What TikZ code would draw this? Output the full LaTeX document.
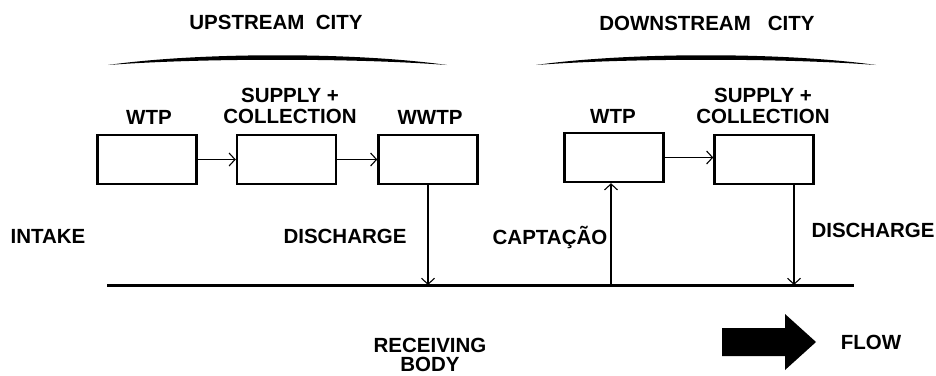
\documentclass[tikz,border=0pt]{standalone}
\usepackage{fontspec}
\setmainfont{Liberation Sans}
\usetikzlibrary{arrows.meta}
\begin{document}
\begin{tikzpicture}[x=1pt,y=-1pt,
  lbl/.style={font=\fontsize{20.5}{22}\selectfont\bfseries, inner sep=0pt, align=center},
  unit/.style={draw, line width=2.4pt, minimum width=99pt, minimum height=49pt, inner sep=0pt},
  conn/.style={line width=1.1pt, -{Straight Barb[length=6pt,width=13pt,line width=1.1pt]}},
  riverline/.style={line width=3pt}]
\useasboundingbox (0,0) rectangle (936,375);
% titles
\node[lbl] (up) at (276,22) {UPSTREAM\ \ CITY};
\node[lbl] (down) at (707,23) {DOWNSTREAM\ \ \ CITY};
% braces
\fill (108,65) .. controls (200,52) and (355,52) .. (447,65) .. controls (355,58) and (200,58) .. (108,65) -- cycle;
\fill (536,65) .. controls (628,52) and (784,52) .. (876,65) .. controls (784,58) and (628,58) .. (536,65) -- cycle;
% boxes
\node[unit] (wtp1) at (147,159.5) {};
\node[unit] (sup1) at (286.5,159.5) {};
\node[unit] (wwtp) at (428,159.5) {};
\node[unit] (wtp2) at (614,157.5) {};
\node[unit] (sup2) at (764,159.5) {};
% box labels
\node[lbl] (lwtp1) at (149,117) {WTP};
\node[lbl] (lsup1) at (290,106) {SUPPLY +\\[-1pt]COLLECTION};
\node[lbl] (lwwtp) at (430,117) {WWTP};
\node[lbl] (lwtp2) at (613,116) {WTP};
\node[lbl] (lsup2) at (763,106) {SUPPLY +\\[-1pt]COLLECTION};
% river
\coordinate (rl) at (107,285);
\coordinate (rr) at (854,285);
\draw[riverline] (rl) -- (rr);
\coordinate (d1) at (428,285);
\coordinate (c2) at (611,285);
\coordinate (d2) at (794,285);
\coordinate (s2b) at (794,185);
% connectors
\draw[conn] (wtp1.east) -- (sup1.west);
\draw[conn] (sup1.east) -- (wwtp.west);
\draw[conn] (wtp2.east) -- (wtp2.east -| sup2.west);
\draw[conn] (wwtp.south) -- (d1);
\draw[conn] (c2) -- (c2 |- wtp2.south);
\draw[conn] (s2b) -- (d2);
% side labels
\node[lbl] (intake) at (48,236) {INTAKE};
\node[lbl] (dis1) at (345,236) {DISCHARGE};
\node[lbl] (capt) at (550,237) {CAPTAÇÃO};
\node[lbl] (dis2) at (873,230) {DISCHARGE};
\node[lbl] (recv) at (430,354.5) {RECEIVING\\[-3pt]BODY};
\node[lbl] (flow) at (871,342) {FLOW};
% flow arrow
\fill (722,328) -- (785,328) -- (785,314) -- (816,342) -- (785,370) -- (785,356) -- (722,356) -- cycle;
\end{tikzpicture}
\end{document}
